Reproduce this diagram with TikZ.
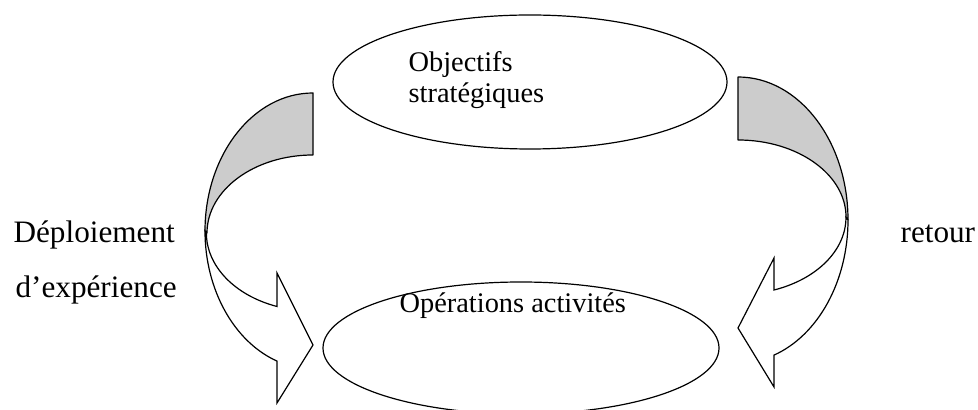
\documentclass[tikz,border=0pt]{standalone}
\usepackage{fontspec}
\setmainfont{Liberation Serif}
\definecolor{rueck}{RGB}{204,204,204}
\definecolor{linie}{RGB}{0,0,0}

\begin{document}
\begin{tikzpicture}[x=0.5pt, y=0.5pt, linie, line width=0.6pt,
    back/.style={draw, fill=rueck, line join=round},
    front/.style={draw, fill=white, line join=miter},
    txt/.style={inner sep=0pt, anchor=base west, font=\fontsize{15.6}{19}\selectfont},
    txtsmall/.style={txt, font=\fontsize{14.2}{17}\selectfont}]
    \useasboundingbox (0,0) rectangle (978,-410);

    % die beiden Ellipsen
    \coordinate (obj) at (530,-82);
    \coordinate (ops) at (521,-348);
    \draw (obj) ellipse [x radius=197, y radius=67];
    \draw (ops) ellipse [x radius=198, y radius=66];

    \node[txtsmall] (obj1) at (408,-72) {Objectifs};
    \node[txtsmall] (obj2) at (408,-103) {stratégiques};
    \node[txtsmall] (opstxt) at (399,-313) {Opérations activités};

    % linker Pfeil
    \draw[back] (313,-93) arc[start angle=90, end angle=180, x radius=108, y radius=138]
        -- (207,-233) arc[start angle=180, end angle=90, x radius=106, y radius=78] -- cycle;
    \draw[front] (205,-231) arc[start angle=180, end angle=250.5, x radius=108, y radius=138]
        -- (277,-403) -- (313,-345) -- (277,-273) -- (277,-306.5)
        arc[start angle=250.5, end angle=180, x radius=106, y radius=78] -- cycle;

    % rechter Pfeil
    \draw[back] (738,-77) arc[start angle=90, end angle=0, x radius=110, y radius=143]
        -- (846,-217) arc[start angle=0, end angle=90, x radius=108, y radius=77] -- cycle;
    \draw[front] (848,-220) arc[start angle=0, end angle=-70.9, x radius=110, y radius=143]
        -- (774,-387) -- (738,-328) -- (774,-258) -- (774,-290)
        arc[start angle=-70.5, end angle=0, x radius=108, y radius=77] -- cycle;

    \node[txt] (depl) at (13,-243) {Déploiement};
    \node[txt] (exp) at (15,-298) {d’expérience};
    \node[txt] (ret) at (900,-243) {retour};
\end{tikzpicture}
\end{document}
